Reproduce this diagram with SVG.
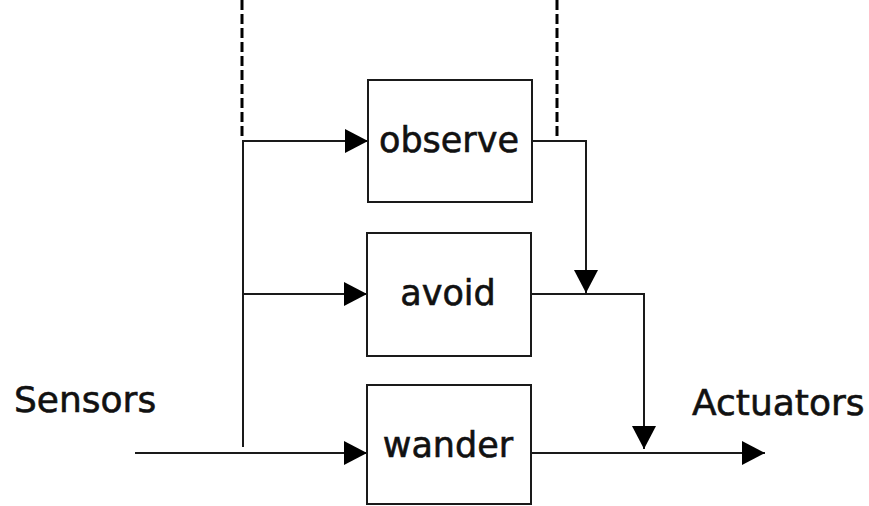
<svg xmlns="http://www.w3.org/2000/svg" width="869" height="506" viewBox="0 0 869 506">
  <style>
    .box { fill: #ffffff; stroke: #1a1a1a; stroke-width: 2; }
    .wire { fill: none; stroke: #1a1a1a; stroke-width: 2; }
    .dash { fill: none; stroke: #000000; stroke-width: 3; stroke-dasharray: 10 4; }
    .lbl { font-family: "DejaVu Sans", "Liberation Sans", sans-serif; font-size: 35px; fill: #111111; stroke: #111111; stroke-width: 0.6; }
    .io { font-family: "DejaVu Sans", "Liberation Sans", sans-serif; font-size: 36px; fill: #111111; stroke: #111111; stroke-width: 0.6; }
  </style>
  <defs>
    <marker id="arrow" markerUnits="userSpaceOnUse" markerWidth="26" markerHeight="26" refX="23" refY="13" orient="auto">
      <path d="M0,1 L23,13 L0,25 z" fill="#000000"/>
    </marker>
  </defs>
  <rect width="869" height="506" fill="#ffffff"/>

  <!-- dashed boundary lines -->
  <g id="boundaries">
    <line class="dash" x1="242" y1="0" x2="242" y2="139"/>
    <line class="dash" x1="557" y1="0" x2="557" y2="139"/>
  </g>

  <!-- connectors -->
  <g id="connectors">
    <path class="wire" d="M243,140 V447"/>
    <path class="wire" d="M243,141 H368" marker-end="url(#arrow)"/>
    <path class="wire" d="M243,294 H367" marker-end="url(#arrow)"/>
    <path class="wire" d="M135,453 H367" marker-end="url(#arrow)"/>
    <path class="wire" d="M532,141 H586 V293" marker-end="url(#arrow)"/>
    <path class="wire" d="M531,294 H644 V449" marker-end="url(#arrow)"/>
    <path class="wire" d="M531,453 H765" marker-end="url(#arrow)"/>
  </g>

  <g id="observe">
    <rect class="box" x="368" y="80" width="164" height="122"/>
    <text class="lbl" x="449" y="152" text-anchor="middle">observe</text>
  </g>
  <g id="avoid">
    <rect class="box" x="367" y="233" width="164" height="123"/>
    <text class="lbl" x="448" y="305" text-anchor="middle">avoid</text>
  </g>
  <g id="wander">
    <rect class="box" x="367" y="385" width="164" height="119"/>
    <text class="lbl" x="448" y="457" text-anchor="middle">wander</text>
  </g>

  <g id="sensors">
    <text class="io" x="14" y="412">Sensors</text>
  </g>
  <g id="actuators">
    <text class="io" x="692" y="415">Actuators</text>
  </g>
</svg>
